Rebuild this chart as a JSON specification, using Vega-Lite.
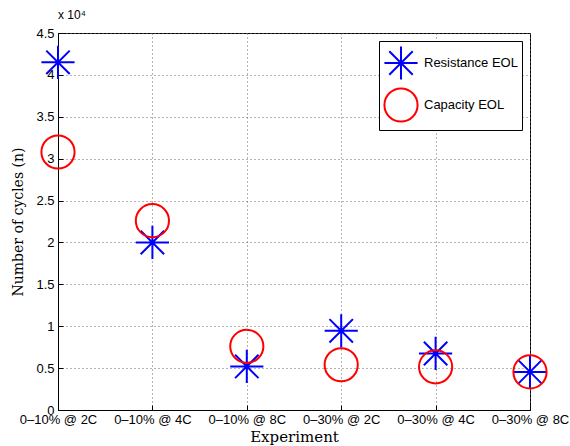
{
  "$schema": "https://vega.github.io/schema/vega-lite/v6.json",
  "width": 472,
  "height": 377,
  "autosize": {"type": "none"},
  "padding": {"left": 58, "top": 33, "right": 40, "bottom": 36},
  "background": "white",
  "title": {"text": "x 10⁴", "anchor": "start", "frame": "group", "offset": 5, "fontSize": 12, "font": "Liberation Sans", "fontWeight": "normal", "color": "black"},
  "data": {
    "values": [
      {"experiment": "0–10% @ 2C", "series": "Resistance EOL", "cycles": 41500},
      {"experiment": "0–10% @ 4C", "series": "Resistance EOL", "cycles": 20000},
      {"experiment": "0–10% @ 8C", "series": "Resistance EOL", "cycles": 5200},
      {"experiment": "0–30% @ 2C", "series": "Resistance EOL", "cycles": 9450},
      {"experiment": "0–30% @ 4C", "series": "Resistance EOL", "cycles": 6750},
      {"experiment": "0–30% @ 8C", "series": "Resistance EOL", "cycles": 4550},
      {"experiment": "0–10% @ 2C", "series": "Capacity EOL", "cycles": 30800},
      {"experiment": "0–10% @ 4C", "series": "Capacity EOL", "cycles": 22600},
      {"experiment": "0–10% @ 8C", "series": "Capacity EOL", "cycles": 7600},
      {"experiment": "0–30% @ 2C", "series": "Capacity EOL", "cycles": 5400},
      {"experiment": "0–30% @ 4C", "series": "Capacity EOL", "cycles": 5150},
      {"experiment": "0–30% @ 8C", "series": "Capacity EOL", "cycles": 4550}
    ]
  },
  "mark": {"type": "point", "filled": false, "strokeWidth": 2, "opacity": 1},
  "encoding": {
    "x": {
      "field": "experiment",
      "type": "nominal",
      "sort": null,
      "scale": {"type": "point", "padding": 0, "domain": ["0–10% @ 2C", "0–10% @ 4C", "0–10% @ 8C", "0–30% @ 2C", "0–30% @ 4C", "0–30% @ 8C"]},
      "axis": {
        "title": "Experiment",
        "titleFont": "DejaVu Serif",
        "titleFontWeight": "normal",
        "titleFontSize": 15,
        "titleColor": "black",
        "titlePadding": 3,
        "labelAngle": 0,
        "labelFont": "Liberation Sans",
        "labelFontSize": 13,
        "labelColor": "black",
        "labelOverlap": false,
        "labelBound": false,
        "labelPadding": 8,
        "tickSize": -5,
        "tickColor": "black",
        "domainColor": "black",
        "grid": true,
        "gridColor": "#666666",
        "gridDash": [1, 3],
        "gridWidth": 1
      }
    },
    "y": {
      "field": "cycles",
      "type": "quantitative",
      "scale": {"domain": [0, 45000], "nice": false, "zero": true},
      "axis": {
        "title": "Number of cycles (n)",
        "titleFont": "DejaVu Serif",
        "titleFontWeight": "normal",
        "titleFontSize": 14,
        "titleColor": "black",
        "titlePadding": 10,
        "values": [0, 5000, 10000, 15000, 20000, 25000, 30000, 35000, 40000, 45000],
        "labelExpr": "datum.value / 10000 + ''",
        "labelFont": "Liberation Sans",
        "labelFontSize": 13,
        "labelColor": "black",
        "labelPadding": 9,
        "tickSize": -5,
        "tickColor": "black",
        "domainColor": "black",
        "grid": true,
        "gridColor": "#666666",
        "gridDash": [1, 3],
        "gridWidth": 1
      }
    },
    "color": {
      "field": "series",
      "type": "nominal",
      "scale": {"domain": ["Resistance EOL", "Capacity EOL"], "range": ["#0000ff", "#ff0000"]}
    },
    "shape": {
      "field": "series",
      "type": "nominal",
      "scale": {"domain": ["Resistance EOL", "Capacity EOL"], "range": ["M-1,0L1,0M0,-1L0,1M-0.707,-0.707L0.707,0.707M-0.707,0.707L0.707,-0.707", "circle"]}
    },
    "size": {
      "field": "series",
      "type": "nominal",
      "scale": {"domain": ["Resistance EOL", "Capacity EOL"], "range": [1100, 1100]}
    }
  },
  "config": {
    "view": {"stroke": "black", "strokeWidth": 1},
    "axis": {"domainWidth": 1, "tickWidth": 1},
    "legend": {
      "title": null,
      "orient": "top-right",
      "offset": 8,
      "padding": 4,
      "strokeColor": "black",
      "fillColor": "white",
      "labelFont": "Liberation Sans",
      "labelFontSize": 13,
      "labelColor": "black",
      "symbolStrokeWidth": 2,
      "rowPadding": 0,
      "labelOffset": 5
    }
  }
}
